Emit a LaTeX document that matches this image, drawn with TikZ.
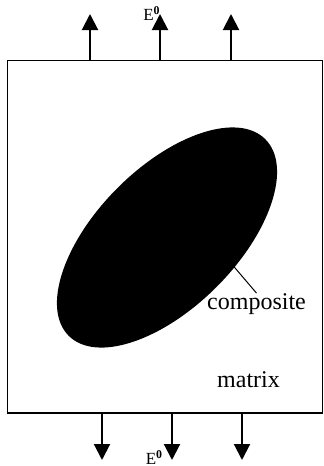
\documentclass[tikz,border=0pt]{standalone}
\usepackage{fontspec}
\setmainfont{Liberation Serif}
\usetikzlibrary{arrows.meta,shapes.geometric}

\begin{document}
\begin{tikzpicture}[x=0.5pt, y=-0.5pt,
  slab/.style={draw, line width=0.75pt, inner sep=0pt, outer sep=0pt, minimum width=157.5pt, minimum height=176.25pt},
  inclusion/.style={ellipse, fill=black, inner sep=0pt, minimum width=139pt, minimum height=70pt, rotate=45},
  field/.style={-{Triangle[length=8pt, width=8pt]}, line width=1pt},
  pointer/.style={-{Stealth[length=3.5pt, width=2.5pt]}, line width=0.5pt},
  tag/.style={font=\fontsize{12}{14}\selectfont, inner sep=0pt},
  efield/.style={font=\fontsize{8.5}{10}\selectfont, inner sep=0pt, anchor=base}
]
\useasboundingbox (0,0) rectangle (324,466);

\node[slab] (matrixbox) at (165,236.75) {};
\node[inclusion] (grain) at (167,237.5) {};
\node[tag] (composite) at (256.5,304) {composite};
\node[tag] (matrix) at (248.5,380) {matrix};
\node[efield] (etop) at (152,20.5) {E\textsuperscript{\textbf{0}}};
\node[efield] (ebottom) at (154.5,464.5) {E\textsuperscript{\textbf{0}}};

\coordinate (core) at (218,248);
\coordinate (up1) at (90,14);
\coordinate (up2) at (160,14);
\coordinate (up3) at (231,14);
\coordinate (down1) at (102,460);
\coordinate (down2) at (172,460);
\coordinate (down3) at (242,460);

\draw[pointer] (composite.north) -- (core);
\draw[field] (matrixbox.north -| up1) -- (up1);
\draw[field] (matrixbox.north -| up2) -- (up2);
\draw[field] (matrixbox.north -| up3) -- (up3);
\draw[field] (matrixbox.south -| down1) -- (down1);
\draw[field] (matrixbox.south -| down2) -- (down2);
\draw[field] (matrixbox.south -| down3) -- (down3);
\end{tikzpicture}
\end{document}
